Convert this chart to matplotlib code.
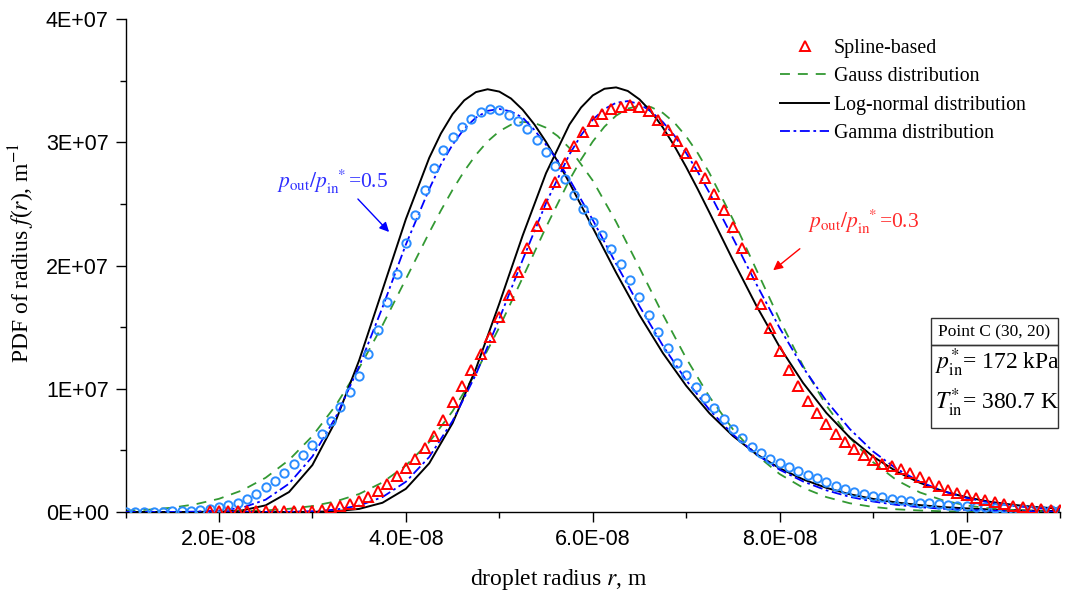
import numpy as np
import matplotlib
matplotlib.use("Agg")
import matplotlib.pyplot as plt
from matplotlib.ticker import FixedLocator, FuncFormatter
from matplotlib.patches import Rectangle
from matplotlib.lines import Line2D

plt.rcParams["font.family"] = ["Liberation Serif", "DejaVu Serif"]
plt.rcParams["mathtext.fontset"] = "stix"

# radius samples, in units of 1e-8 m
r_05 = [
    1.0, 1.25, 1.5, 1.75, 2.0, 2.25, 2.5, 2.75, 3.0, 3.25, 3.5, 3.75, 4.0, 4.25,
    4.375, 4.5, 4.625, 4.75, 4.875, 5.0, 5.125, 5.25, 5.375, 5.5, 5.625,
    5.75, 6.0, 6.25, 6.5, 6.75, 7.0, 7.25, 7.5, 7.75, 8.0, 8.25, 8.5, 8.75,
    9.0, 9.25, 9.5, 9.75, 10.0, 10.25, 10.5, 10.75, 11.0,
]
r_03 = [
    1.0, 1.25, 1.5, 1.75, 2.0, 2.25, 2.5, 2.75, 3.0, 3.25, 3.5, 3.75, 4.0, 4.25,
    4.5, 4.75, 5.0, 5.25, 5.5, 5.75, 5.875, 6.0, 6.125, 6.25, 6.375, 6.5,
    6.625, 6.75, 6.875, 7.0, 7.125, 7.25, 7.5, 7.75, 8.0, 8.25, 8.5, 8.75,
    9.0, 9.25, 9.5, 9.75, 10.0, 10.25, 10.5, 10.75, 11.0,
]
r_circles = np.arange(1.0, 11.01, 0.1)
r_triangles = np.arange(1.9, 11.01, 0.1)

# PDF values in units of 1e7 1/m
# p_out/p_in* = 0.5
spline_05 = [
    0.000, 0.001, 0.002, 0.003, 0.004, 0.006, 0.008, 0.011, 0.017, 0.027,
    0.040, 0.055, 0.075, 0.105, 0.145, 0.200, 0.255, 0.320, 0.390, 0.460,
    0.540, 0.630, 0.740, 0.850, 0.970, 1.100, 1.280, 1.480, 1.700, 1.930,
    2.180, 2.410, 2.610, 2.790, 2.940, 3.040, 3.120, 3.190, 3.245, 3.268,
    3.258, 3.225, 3.175, 3.105, 3.020, 2.920, 2.810, 2.700, 2.575, 2.460,
    2.350, 2.250, 2.135, 2.010, 1.880, 1.745, 1.600, 1.460, 1.330, 1.210,
    1.110, 1.015, 0.925, 0.840, 0.755, 0.675, 0.600, 0.530, 0.475, 0.430,
    0.395, 0.362, 0.330, 0.300, 0.272, 0.243, 0.214, 0.188, 0.166, 0.147,
    0.131, 0.118, 0.106, 0.095, 0.086, 0.077, 0.070, 0.063, 0.057, 0.051,
    0.046, 0.041, 0.037, 0.033, 0.029, 0.026, 0.023, 0.020, 0.017, 0.015,
    0.013,
]
gauss_05 = [
    0.010, 0.019, 0.035, 0.063, 0.107, 0.176, 0.278, 0.422, 0.616,
    0.865, 1.167, 1.515, 1.890, 2.267,
    2.446, 2.614, 2.766, 2.898, 3.007, 3.089, 3.142, 3.165, 3.157, 3.118, 3.050,
    2.953, 2.689, 2.354, 1.981, 1.603, 1.247,
    0.933, 0.671, 0.464, 0.308, 0.197, 0.121, 0.071, 0.041,
    0.022, 0.012, 0.006, 0.003, 0.0013, 0.0006, 0.0002, 0.0001,
]
lognorm_05 = [
    0.0, 0.0, 0.0, 0.0002, 0.0021, 0.013, 0.054, 0.162, 0.381,
    0.740, 1.230, 1.802, 2.376, 2.873,
    3.071, 3.228, 3.340, 3.407, 3.430, 3.411, 3.355, 3.264, 3.145, 3.003, 2.843,
    2.671, 2.307, 1.942, 1.598, 1.290, 1.024,
    0.800, 0.617, 0.470, 0.355, 0.265, 0.196, 0.144, 0.106,
    0.077, 0.056, 0.040, 0.029, 0.021, 0.015, 0.010, 0.007,
]
gamma_05 = [
    0.0, 0.0001, 0.0005, 0.003, 0.012, 0.035, 0.100, 0.230, 0.450,
    0.770, 1.180, 1.660, 2.170, 2.620,
    2.820, 2.980, 3.110, 3.200, 3.255, 3.270, 3.250, 3.200, 3.100, 2.980, 2.850,
    2.700, 2.370, 2.014, 1.670, 1.350, 1.069,
    0.828, 0.629, 0.469, 0.343, 0.248, 0.176, 0.123, 0.085,
    0.058, 0.039, 0.026, 0.017, 0.011, 0.007, 0.005, 0.003,
]

# p_out/p_in* = 0.3
spline_03 = [
    0.010,
    0.012, 0.012, 0.012, 0.011, 0.010, 0.010, 0.009, 0.009, 0.009, 0.010,
    0.012, 0.018, 0.030, 0.045, 0.065, 0.090, 0.125, 0.170, 0.225, 0.290,
    0.360, 0.430, 0.520, 0.620, 0.750, 0.890, 1.020, 1.150, 1.280, 1.420,
    1.580, 1.760, 1.950, 2.140, 2.320, 2.500, 2.680, 2.830, 2.970, 3.080,
    3.170, 3.230, 3.270, 3.290, 3.300, 3.290, 3.250, 3.180, 3.100, 3.010,
    2.910, 2.810, 2.710, 2.580, 2.450, 2.310, 2.140, 1.930, 1.690, 1.490,
    1.310, 1.150, 1.020, 0.900, 0.800, 0.710, 0.630, 0.565, 0.510, 0.460,
    0.420, 0.390, 0.370, 0.350, 0.320, 0.280, 0.245, 0.210, 0.180, 0.155,
    0.135, 0.115, 0.095, 0.078, 0.064, 0.052, 0.042, 0.033, 0.026, 0.020,
    0.015,
]
gauss_03 = [
    0.0001, 0.0003, 0.0006, 0.0014, 0.003, 0.0065, 0.013, 0.026, 0.048,
    0.086, 0.146, 0.240, 0.377, 0.567, 0.818, 1.131, 1.498, 1.901, 2.311, 2.693,
    2.860, 3.006, 3.126, 3.216, 3.273, 3.297, 3.285, 3.238, 3.158, 3.047, 2.910,
    2.748, 2.375, 1.967, 1.560, 1.186, 0.864, 0.603, 0.404,
    0.259, 0.159, 0.094, 0.053, 0.029, 0.015, 0.007, 0.0035,
]
lognorm_03 = [
    0.0, 0.0, 0.0, 0.0, 0.0, 0.0, 0.0, 0.0002, 0.0012,
    0.0064, 0.025, 0.075, 0.188, 0.395, 0.721, 1.163, 1.691, 2.243, 2.749, 3.143,
    3.282, 3.380, 3.434, 3.445, 3.416, 3.348, 3.248, 3.120, 2.968, 2.798, 2.617,
    2.428, 2.044, 1.675, 1.339, 1.048, 0.804, 0.605, 0.449,
    0.329, 0.237, 0.169, 0.119, 0.083, 0.058, 0.040, 0.027,
]
gamma_03 = [
    0.0, 0.0, 0.0, 0.0, 0.0, 0.0, 0.0003, 0.0016, 0.0062,
    0.0195, 0.052, 0.121, 0.245, 0.446, 0.739, 1.117, 1.567, 2.046, 2.507, 2.901,
    3.057, 3.183, 3.270, 3.320, 3.334, 3.310, 3.249, 3.164, 3.053, 2.912, 2.758,
    2.588, 2.223, 1.850, 1.493, 1.173, 0.901, 0.674, 0.491,
    0.351, 0.246, 0.169, 0.114, 0.076, 0.049, 0.032, 0.020,
]

RED = "#ff0000"
GREEN = "#339933"
BLUE = "#0000ff"
LIGHTBLUE = "#2a8cff"

W, H = 1065, 600
fig = plt.figure(figsize=(W / 100, H / 100), dpi=100)
ax = fig.add_axes([125.5 / W, 88 / H, 934.5 / W, 493 / H])

xs = 1e-8
ys = 1e7
gauss_style = dict(color=GREEN, lw=1.3, dashes=(5.5, 4.4))
logn_style = dict(color="black", lw=1.4)
gamma_style = dict(color=BLUE, lw=1.3, dashes=(5.5, 2.0, 1.5, 2.0))

for r, g, l, gm in [(r_05, gauss_05, lognorm_05, gamma_05),
                    (r_03, gauss_03, lognorm_03, gamma_03)]:
    r = np.array(r) * xs
    ax.plot(r, np.array(g) * ys, zorder=2, **gauss_style)
    ax.plot(r, np.array(l) * ys, zorder=2, **logn_style)
    ax.plot(r, np.array(gm) * ys, zorder=3, **gamma_style)

ax.plot(r_circles * xs, np.array(spline_05) * ys, "o", ms=6, mfc="none",
        mec=LIGHTBLUE, mew=1.4, zorder=4)
ax.plot(r_triangles * xs, np.array(spline_03) * ys, "^", ms=7, mfc="none",
        mec=RED, mew=1.4, zorder=4)

ax.set_xlim(1e-8, 1.1e-7)
ax.set_ylim(0, 4e7)
ax.xaxis.set_major_locator(FixedLocator([2e-8, 4e-8, 6e-8, 8e-8, 1e-7]))
ax.xaxis.set_minor_locator(FixedLocator([1e-8, 3e-8, 5e-8, 7e-8, 9e-8, 1.1e-7]))
ax.yaxis.set_major_locator(FixedLocator([0, 1e7, 2e7, 3e7, 4e7]))
ax.yaxis.set_minor_locator(FixedLocator([0.5e7, 1.5e7, 2.5e7, 3.5e7]))
ax.xaxis.set_major_formatter(FuncFormatter(lambda v, _: f"{v:.1E}"))
ax.yaxis.set_major_formatter(FuncFormatter(lambda v, _: f"{v:.0E}"))
ax.tick_params(which="major", direction="out", length=7, width=1.0,
               labelsize=15.5, pad=5, labelfontfamily="Liberation Sans")
ax.tick_params(which="minor", direction="out", length=4, width=1.0)
for s in ("top", "right"):
    ax.spines[s].set_visible(False)
for s in ("left", "bottom"):
    ax.spines[s].set_linewidth(1.0)


def ff(px, py):
    return (px / W, 1 - py / H)


fig.text(*ff(559, 579), r"droplet radius $r$, m", fontsize=17,
         ha="center", va="center")
fig.text(*ff(22, 253), r"PDF of radius $f$($r$), m$^{-1}$", fontsize=17,
         ha="center", va="center", rotation=90)

handles = [
    Line2D([], [], ls="none", marker="^", ms=7, mfc="none", mec=RED, mew=1.4),
    Line2D([], [], **gauss_style),
    Line2D([], [], **logn_style),
    Line2D([], [], **gamma_style),
]
labels = ["Spline-based", "Gauss distribution", "Log-normal distribution",
          "Gamma distribution"]
fig.legend(handles, labels, loc="upper left", bbox_to_anchor=ff(780, 39),
           frameon=False, fontsize=14.3, handlelength=2.47, handletextpad=0.25,
           labelspacing=0.47, borderpad=0, borderaxespad=0, numpoints=1)

# annotations
fig.text(*ff(277, 188), r"$p_{\rm out}/p_{\rm in}^{\ \ *}$=0.5", color="#2f2fff",
         fontsize=15.5, ha="left", va="baseline")
fig.text(*ff(808, 228), r"$p_{\rm out}/p_{\rm in}^{\ \ *}$=0.3", color="#ff2a2a",
         fontsize=15.5, ha="left", va="baseline")
ax.annotate("", xy=ff(391, 234), xytext=ff(356, 197), xycoords="figure fraction",
            textcoords="figure fraction",
            arrowprops=dict(arrowstyle="-|>", color=BLUE, lw=1.0, mutation_scale=14))
ax.annotate("", xy=ff(771, 272), xytext=ff(802, 247), xycoords="figure fraction",
            textcoords="figure fraction",
            arrowprops=dict(arrowstyle="-|>", color=RED, lw=1.0, mutation_scale=14))

# info box
for (x0, y0, x1, y1) in [(931, 318, 1058, 345), (931, 345, 1058, 428)]:
    fig.patches.append(Rectangle((x0 / W, 1 - y1 / H), (x1 - x0) / W, (y1 - y0) / H,
                                 transform=fig.transFigure, fill=False,
                                 edgecolor="#333333", lw=1.0))
fig.text(*ff(994, 332), "Point C (30, 20)", fontsize=12.5, ha="center", va="center")
fig.text(*ff(935, 370), r"$p^{*}_{\rm in}$= 172 kPa", fontsize=17, ha="left",
         va="baseline")
fig.text(*ff(935, 410), r"$T^{*}_{\rm in}$= 380.7 K", fontsize=17, ha="left",
         va="baseline")

fig.savefig("out.png", dpi=100)
